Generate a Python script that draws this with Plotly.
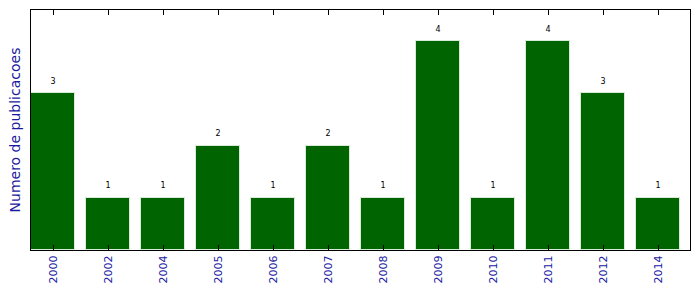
import plotly.graph_objects as go

years = ["2000", "2002", "2004", "2005", "2006", "2007", "2008", "2009", "2010", "2011", "2012", "2014"]
counts = [3, 1, 1, 2, 1, 2, 1, 4, 1, 4, 3, 1]

idx = list(range(len(years)))

fig = go.Figure()
fig.add_trace(go.Bar(
    x=idx, y=counts, width=0.8,
    marker=dict(color="#006400", line=dict(color="#d8ead8", width=1)),
    hoverinfo="skip", showlegend=False,
))
fig.add_trace(go.Scatter(
    x=idx, y=[c + 0.22 for c in counts], mode="text",
    text=[str(c) for c in counts],
    textfont=dict(family="DejaVu Sans", size=8, color="black"),
    hoverinfo="skip", showlegend=False,
))

fig.update_layout(
    template="none",
    width=699, height=292,
    margin=dict(l=31, r=9, t=10, b=42),
    plot_bgcolor="white", paper_bgcolor="white",
    font=dict(family="DejaVu Sans"),
    bargap=0,
    xaxis=dict(
        range=[-0.4, 11.58],
        tickmode="array", tickvals=idx, ticktext=years,
        tickangle=-90,
        tickfont=dict(size=11, color="#1a1aa0"),
        ticks="inside", ticklen=5, tickcolor="black", tickwidth=1,
        showline=True, linecolor="black", linewidth=1, mirror="allticks",
        showgrid=False, zeroline=False, layer="above traces",
    ),
    yaxis=dict(
        range=[0, 4.6],
        showticklabels=False, ticks="",
        showline=True, linecolor="black", linewidth=1, mirror=True,
        showgrid=False, zeroline=False, layer="above traces",
        title=dict(text="Numero de publicacoes", font=dict(size=14, color="#1a1aa0"), standoff=6),
    ),
)

fig.write_html("out.html")
